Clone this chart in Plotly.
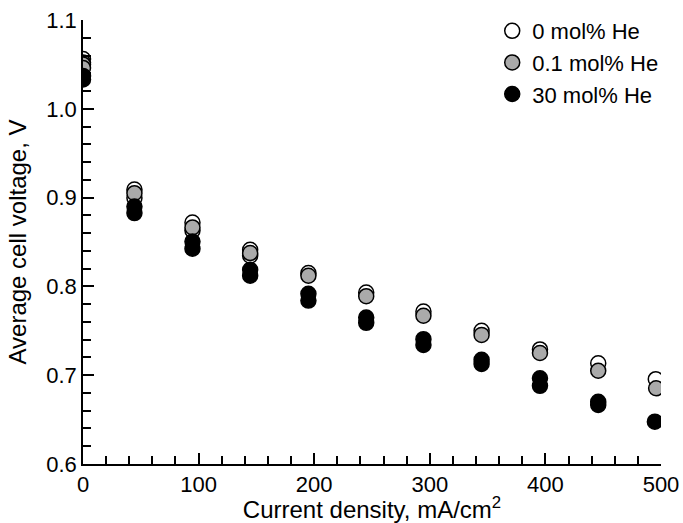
import plotly.graph_objects as go

# 0 mol% He (open circles)
x_open = [0, 0, 44.5, 44.5, 94.7, 94.7, 144.6, 144.6, 195, 245, 294.5, 344.8, 395.3, 445.7, 495.5]
y_open = [1.056, 1.052, 0.909, 0.8995, 0.872, 0.863, 0.8413, 0.8345, 0.815, 0.793, 0.7717, 0.750, 0.729, 0.7135, 0.6955]

# 0.1 mol% He (grey circles)
x_grey = [0, 0, 44.5, 94.7, 144.6, 195, 245, 294.5, 344.8, 395.3, 445.7, 495.8]
y_grey = [1.050, 1.046, 0.905, 0.8664, 0.8375, 0.812, 0.789, 0.7669, 0.7454, 0.725, 0.705, 0.6853]

# 30 mol% He (black circles)
x_black = [0, 0, 44.5, 44.5, 94.7, 94.7, 144.6, 144.6, 195, 195, 245, 245, 294.5, 294.5, 344.8, 344.8, 395.3, 395.3, 445.7, 445.7, 494.7]
y_black = [1.037, 1.033, 0.890, 0.8826, 0.8506, 0.8424, 0.8187, 0.812, 0.7917, 0.784, 0.765, 0.759, 0.7406, 0.734, 0.7173, 0.7127, 0.6966, 0.688, 0.670, 0.6665, 0.6477]

names = ["0 mol% He", "0.1 mol% He", "30 mol% He"]
x_ticks = [0, 100, 200, 300, 400, 500]
y_ticks = [0.6, 0.7, 0.8, 0.9, 1.0, 1.1]

FONT = "Arial, Liberation Sans, sans-serif"
FS = 22
TFS = 24

fig = go.Figure()
for xs, ys, name, col in [(x_open, y_open, names[0], "white"),
                          (x_grey, y_grey, names[1], "#aaaaaa"),
                          (x_black, y_black, names[2], "black")]:
    fig.add_trace(go.Scatter(
        x=xs, y=ys, mode="markers", name=name,
        marker=dict(symbol="circle", size=15, color=col,
                    line=dict(color="black", width=1.5)),
    ))

axis_common = dict(
    showline=True, linecolor="black", linewidth=1.5,
    ticks="inside", ticklen=11, tickwidth=1.5, tickcolor="black",
    showgrid=False, zeroline=False, mirror=False, automargin=False,
    ticklabeloverflow="allow",
    tickfont=dict(family=FONT, size=FS, color="black"),
)

fig.update_xaxes(
    range=[0, 500], tickvals=x_ticks, ticktext=[str(v) for v in x_ticks],
    minor=dict(ticks="inside", ticklen=8, tickwidth=1.5, tickcolor="black", dtick=20, tick0=0, showgrid=False),
    title=dict(text="Current density, mA/cm<sup>2</sup>", font=dict(family=FONT, size=TFS, color="black"), standoff=4),
    **axis_common,
)
fig.update_yaxes(
    range=[0.6, 1.1], tickvals=y_ticks, ticktext=[f"{v:.1f}" for v in y_ticks],
    minor=dict(ticks="inside", ticklen=8, tickwidth=1.5, tickcolor="black", dtick=0.02, tick0=0.6, showgrid=False),
    title=dict(text="Average cell voltage, V", font=dict(family=FONT, size=TFS, color="black"), standoff=13),
    **axis_common,
)

fig.update_layout(
    width=683, height=523,
    margin=dict(l=83, r=22, t=20, b=59, autoexpand=False),
    paper_bgcolor="white", plot_bgcolor="white",
    showlegend=True,
    legend=dict(x=0.708, y=1.0225, xanchor="left", yanchor="top",
                font=dict(family=FONT, size=22, color="black"),
                bgcolor="rgba(0,0,0,0)", tracegroupgap=0, itemwidth=30),
    font=dict(family=FONT, color="black"),
)

# remove the default page margin so the figure fills the window exactly
fig.write_html("out.html", config={"displayModeBar": False},
               post_script="document.body.style.margin='0';")
